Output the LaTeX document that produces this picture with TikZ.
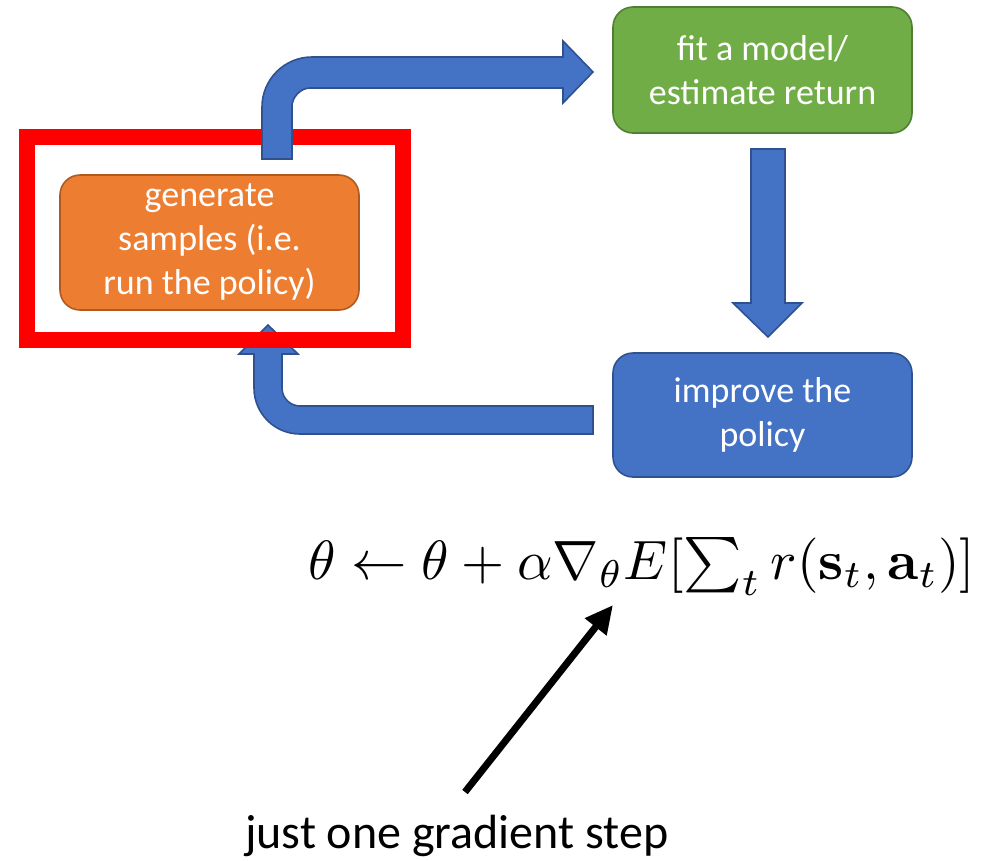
\documentclass[tikz,border=0pt]{standalone}
\usepackage[no-math]{fontspec}
\setmainfont{Carlito}
\usepackage{graphicx}
\usetikzlibrary{arrows.meta}
\definecolor{grfill}{HTML}{70AD47}
\definecolor{grline}{HTML}{507E32}
\definecolor{orfill}{HTML}{ED7D31}
\definecolor{orline}{HTML}{AE5A21}
\definecolor{blfill}{HTML}{4472C4}
\definecolor{blline}{HTML}{2F528F}
\tikzset{
  stepbox/.style={rounded corners=20pt, line width=1.6pt, minimum width=299pt,
    text=white, align=center, inner sep=0pt,
    font=\fontsize{36}{44}\selectfont},
  blockarrow/.style={fill=blfill, draw=blline, line width=1.6pt, line join=miter},
}
\begin{document}
\begin{tikzpicture}[x=1pt,y=-1pt]
\useasboundingbox (0,0) rectangle (999,860);
% boxes
\node[stepbox, fill=grfill, draw=grline, minimum height=126pt] (fit) at (762.5,70) {fit a model/\\estimate return};
\node[stepbox, fill=blfill, draw=blline, minimum height=124pt] (improve) at (762.5,415) {improve the\\policy};
\node[stepbox, fill=orfill, draw=orline, minimum height=135pt] (gen) at (209.5,242.5) {generate\\samples (i.e.\\run the policy)};
% bottom bent arrow (improve -> generate)
\draw[blockarrow] (593,406) -- (300,406) .. controls (290.06,406) and (282,397.94) .. (282,388)
  -- (282,354) -- (298,354) -- (268,325) -- (239,354) -- (254,354) -- (254,388)
  .. controls (254,413.4) and (274.6,434) .. (300,434) -- (593,434) -- cycle;
% red highlight
\draw[red, line width=16pt] (27,136.5) rectangle (403,340);
% top bent arrow (generate -> fit)
\draw[blockarrow] (262,159) -- (262,107) .. controls (262,79.4) and (284.4,57) .. (312,57)
  -- (563,57) -- (563,41) -- (593,72) -- (563,103) -- (563,88) -- (310,88)
  .. controls (300.06,88) and (292,97.94) .. (292,106) -- (292,159) -- cycle;
% down arrow (fit -> improve)
\draw[blockarrow] (751,149) -- (785,149) -- (785,303) -- (802,303) -- (768,337) -- (733,303) -- (751,303) -- cycle;
% formula
\node[anchor=base west, inner sep=0pt] (formula) at (308,579)
  {\resizebox{667pt}{!}{$\theta \leftarrow \theta + \alpha\nabla_\theta E[\sum_t r(\mathbf{s}_t,\mathbf{a}_t)]$}};
% caption and pointer
\node[anchor=base west, inner sep=0pt, font=\fontsize{48}{58}\selectfont] (caption) at (245,848) {just one gradient step};
\coordinate (tail) at (465,792);
\coordinate (tip) at (613,605);
\draw[line width=7pt, -{Triangle[length=28pt,width=26pt]}] (tail) -- (tip);
\end{tikzpicture}
\end{document}
